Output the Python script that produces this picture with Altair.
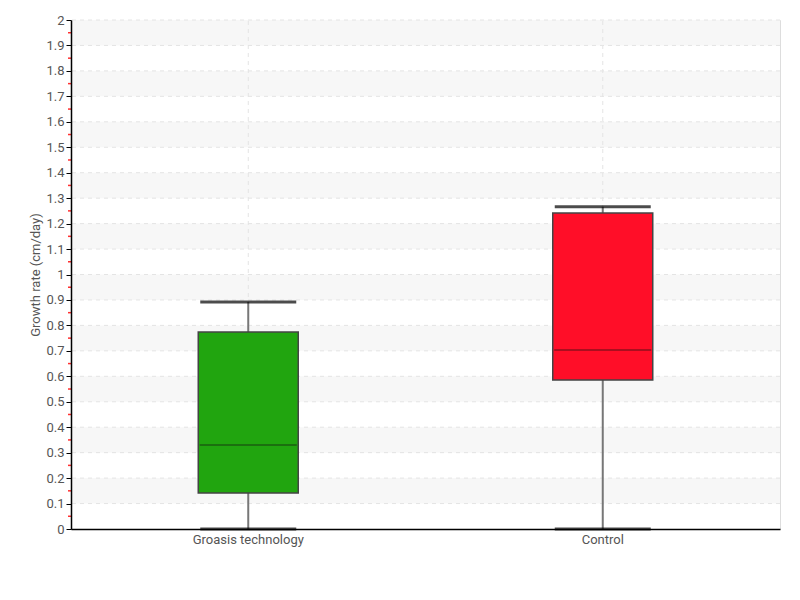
import altair as alt
import pandas as pd

categories = ["Groasis technology", "Control"]
lower = [0.0, 0.0]
q1 = [0.141, 0.585]
median = [0.330, 0.703]
q3 = [0.774, 1.242]
upper = [0.892, 1.266]
colors = ["#21a50f", "#ff0e28"]

y_ticks = [round(i * 0.1, 1) for i in range(21)]
minor_ticks = [round(0.05 + i * 0.1, 2) for i in range(20)]
band_starts = [round(0.1 + i * 0.2, 1) for i in range(10)]

df = pd.DataFrame({"cat": categories, "lower": lower, "q1": q1, "median": median,
                   "q3": q3, "upper": upper, "color": colors})
bands = pd.DataFrame({"b0": band_starts, "b1": [round(b + 0.1, 1) for b in band_starts]})
minor = pd.DataFrame({"m": minor_ticks})
grid_y = pd.DataFrame({"g": y_ticks[1:]})
grid_x = pd.DataFrame({"cat": categories, "lo": [0.0, 0.0], "hi": [2.0, 2.0]})

FONT = "Roboto"
W, H = 709, 509

xscale = alt.Scale(domain=categories, paddingInner=0, paddingOuter=0)
xaxis = alt.Axis(ticks=False, domainColor="#000", domainWidth=1.5,
                 labelColor="#555", labelFont=FONT, labelFontSize=13,
                 labelPadding=4, labelAngle=0, grid=False, zindex=1)
yscale = alt.Scale(domain=[0, 2], nice=False)
yaxis = alt.Axis(values=y_ticks, format="~g",
                 titleFont=FONT, titleFontSize=13, titleFontWeight="normal",
                 titleColor="#555", titlePadding=3, labelOverlap=False,
                 labelColor="#555", labelFont=FONT, labelFontSize=13, labelPadding=2,
                 tickColor="#000", tickSize=5, domainColor="#000", domainWidth=1.5,
                 grid=False, zindex=1)
YT = "Growth rate (cm/day)"


def X(field):
    return alt.X(field, type="nominal", scale=xscale, axis=xaxis, title=None)


def Y(field):
    return alt.Y(field, type="quantitative", scale=yscale, axis=yaxis, title=YT)


band_layer = alt.Chart(bands).mark_rect(color="#f7f7f7").encode(
    y=Y("b0"), y2="b1",
)

hgrid = alt.Chart(grid_y).mark_rule(color="#e4e4e4", strokeDash=[4, 4]).encode(
    y=Y("g"),
)

vgrid = alt.Chart(grid_x).mark_rule(color="#e4e4e4", strokeDash=[4, 4]).encode(
    x=X("cat"), y=Y("lo"), y2="hi",
)

minor_layer = alt.Chart(minor).mark_rule(color="#ff3030", strokeWidth=1.5).encode(
    y=Y("m"), x=alt.value(-3), x2=alt.value(0),
)

base = alt.Chart(df)

whisker = base.mark_rule(color="#777", strokeWidth=2).encode(
    x=X("cat"), y=Y("lower"), y2="upper")

box = base.mark_bar(size=100, stroke="#444", strokeWidth=1.5).encode(
    x=X("cat"), y=Y("q1"), y2="q3",
    color=alt.Color("color:N", scale=None))

med = base.mark_tick(color="#111", thickness=1, size=97).encode(
    x=X("cat"), y=Y("median"))

cap_lo = base.mark_tick(color="#000", thickness=3, size=96).encode(
    x=X("cat"), y=Y("lower"))
cap_hi = base.mark_tick(color="#000", thickness=3, size=96).encode(
    x=X("cat"), y=Y("upper"))

chart = alt.layer(band_layer, hgrid, vgrid, whisker, box, med, cap_lo, cap_hi, minor_layer).properties(
    width=W, height=H,
    autosize=alt.AutoSizeParams(type="none"),
    padding={"left": 63, "top": 12, "right": 12, "bottom": 60},
).configure_view(stroke=None).configure(background="white")

chart.save("out.html", embed_options={"renderer": "svg", "actions": False})
